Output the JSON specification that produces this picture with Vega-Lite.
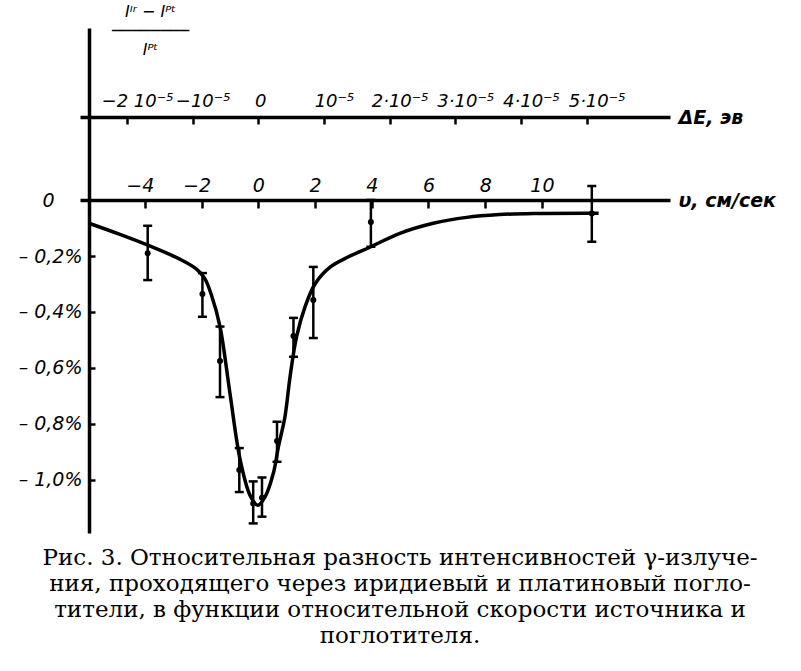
{
  "$schema": "https://vega.github.io/schema/vega-lite/v6.json",
  "width": 590,
  "height": 505,
  "autosize": "none",
  "padding": {"left": 80, "top": 28, "right": 131, "bottom": 138},
  "background": "white",
  "datasets": {
    "curve": [
      {"v": -5.97, "r": -0.083}, {"v": -4.9, "r": -0.122}, {"v": -3.9, "r": -0.161},
      {"v": -2.75, "r": -0.212}, {"v": -2.2, "r": -0.245}, {"v": -1.9, "r": -0.278},
      {"v": -1.65, "r": -0.34}, {"v": -1.35, "r": -0.452}, {"v": -1.0, "r": -0.69},
      {"v": -0.645, "r": -0.925}, {"v": -0.29, "r": -1.055}, {"v": -0.02, "r": -1.09},
      {"v": 0.24, "r": -1.06}, {"v": 0.53, "r": -0.976}, {"v": 0.71, "r": -0.881},
      {"v": 0.94, "r": -0.774}, {"v": 1.12, "r": -0.631}, {"v": 1.35, "r": -0.488},
      {"v": 1.65, "r": -0.381}, {"v": 2.0, "r": -0.3}, {"v": 2.53, "r": -0.24},
      {"v": 3.2, "r": -0.202}, {"v": 3.97, "r": -0.167}, {"v": 4.99, "r": -0.119},
      {"v": 6.17, "r": -0.083}, {"v": 7.35, "r": -0.062}, {"v": 8.5, "r": -0.052},
      {"v": 9.7, "r": -0.048}, {"v": 12.0, "r": -0.047}
    ],
    "points": [
      {"v": -3.9, "r": -0.19, "lo": -0.286, "hi": -0.092},
      {"v": -1.97, "r": -0.336, "lo": -0.417, "hi": -0.261},
      {"v": -1.35, "r": -0.575, "lo": -0.704, "hi": -0.452},
      {"v": -0.67, "r": -0.964, "lo": -1.043, "hi": -0.886},
      {"v": -0.18, "r": -1.084, "lo": -1.155, "hi": -1.005},
      {"v": 0.13, "r": -1.063, "lo": -1.131, "hi": -0.991},
      {"v": 0.66, "r": -0.861, "lo": -0.935, "hi": -0.792},
      {"v": 1.24, "r": -0.486, "lo": -0.56, "hi": -0.421},
      {"v": 1.94, "r": -0.357, "lo": -0.493, "hi": -0.239},
      {"v": 3.97, "r": -0.079, "lo": -0.167, "hi": 0.0},
      {"v": 11.76, "r": -0.048, "lo": -0.149, "hi": 0.05}
    ]
  },
  "title": {
    "text": [
      "Рис. 3. Относительная разность интенсивностей γ-излуче-",
      "ния, проходящего через иридиевый и платиновый погло-",
      "тители, в функции относительной скорости источника и",
      "поглотителя."
    ],
    "orient": "bottom",
    "anchor": "middle",
    "frame": "group",
    "baseline": "top",
    "offset": 14,
    "dx": 25,
    "font": "DejaVu Serif",
    "fontSize": 23,
    "fontWeight": "normal",
    "lineHeight": 26,
    "color": "black"
  },
  "config": {
    "view": {"stroke": null},
    "axis": {
      "grid": false,
      "domainColor": "black",
      "domainWidth": 3.5,
      "tickColor": "black",
      "tickWidth": 2.5,
      "labelColor": "black",
      "labelFont": "DejaVu Sans",
      "labelFontStyle": "italic",
      "labelFontSize": 19,
      "labelOverlap": false,
      "labelFlush": false,
      "titleColor": "black",
      "titleFont": "DejaVu Sans",
      "titleFontStyle": "italic",
      "titleFontWeight": "bold",
      "titleFontSize": 19
    }
  },
  "resolve": {"axis": {"x": "independent", "y": "independent"}},
  "layer": [
    {
      "data": {"name": "curve"},
      "mark": {"type": "line", "interpolate": "catmull-rom", "color": "black", "strokeWidth": 3.5},
      "encoding": {
        "x": {
          "field": "v", "type": "quantitative",
          "scale": {"domain": [-6.287, 14.517], "nice": false, "zero": false},
          "axis": {
            "orient": "top", "offset": -172,
            "values": [-4, -2, 0, 2, 4, 6, 8, 10],
            "tickSize": -8, "labelPadding": 13,
            "labelOffset": {"condition": {"test": "datum.value < 0", "value": -5}, "value": 0},
            "title": "υ, см/сек",
            "titleAngle": 0, "titleAlign": "left", "titleBaseline": "middle",
            "titleX": 598, "titleY": 0
          }
        },
        "y": {
          "field": "r", "type": "quantitative",
          "scale": {"domain": [-1.1893, 0.6143], "nice": false, "zero": false},
          "axis": {
            "orient": "left", "offset": -9,
            "values": [0, -0.2, -0.4, -0.6, -0.8, -1.0],
            "labelExpr": "datum.value == 0 ? '0\u2800\u2800' : '– ' + replace(format(-datum.value, '.1f'), '.', ',') + '%'",
            "tickSize": -6, "labelPadding": 13,
            "title": ["Iᴵʳ − Iᴾᵗ", "────────", "Iᴾᵗ"],
            "titleAngle": 0, "titleAlign": "center", "titleBaseline": "top",
            "titleX": 61, "titleY": -25, "titleLineHeight": 19,
            "titleFontWeight": "normal", "titleFontSize": 16
          }
        }
      }
    },
    {
      "data": {"name": "points"},
      "mark": {"type": "rule", "color": "black", "strokeWidth": 2.5},
      "encoding": {
        "x": {"field": "v", "type": "quantitative", "axis": null},
        "y": {"field": "lo", "type": "quantitative", "axis": null},
        "y2": {"field": "hi"}
      }
    },
    {
      "data": {"name": "points"},
      "mark": {"type": "tick", "orient": "horizontal", "color": "black", "size": 9, "thickness": 2.5, "opacity": 1},
      "encoding": {
        "x": {"field": "v", "type": "quantitative", "axis": null},
        "y": {"field": "lo", "type": "quantitative", "axis": null}
      }
    },
    {
      "data": {"name": "points"},
      "mark": {"type": "tick", "orient": "horizontal", "color": "black", "size": 9, "thickness": 2.5, "opacity": 1},
      "encoding": {
        "x": {"field": "v", "type": "quantitative", "axis": null},
        "y": {"field": "hi", "type": "quantitative", "axis": null}
      }
    },
    {
      "data": {"name": "points"},
      "mark": {"type": "circle", "color": "black", "opacity": 1, "size": 36},
      "encoding": {
        "x": {
          "field": "v", "type": "quantitative",
          "axis": {
            "orient": "top", "offset": -89,
            "values": [-4.63, -2.315, 0, 2.315, 4.63, 6.945, 9.26, 11.575],
            "labelExpr": "round(datum.value / 2.315) == 0 ? '0' : round(datum.value / 2.315) == 1 ? '10⁻⁵' : round(datum.value / 2.315) == -1 ? '−10⁻⁵' : round(datum.value / 2.315) < 0 ? '−' + abs(round(datum.value / 2.315)) + ' 10⁻⁵' : round(datum.value / 2.315) + '·10⁻⁵'",
            "labelFontSize": 18,
            "labelOffset": {"condition": {"test": "datum.value == 0", "value": 2}, "value": 10},
            "tickSize": -7, "labelPadding": 14,
            "title": "ΔE, эв",
            "titleAngle": 0, "titleAlign": "left", "titleBaseline": "middle",
            "titleX": 598, "titleY": 0
          }
        },
        "y": {"field": "r", "type": "quantitative", "axis": null}
      }
    }
  ]
}
